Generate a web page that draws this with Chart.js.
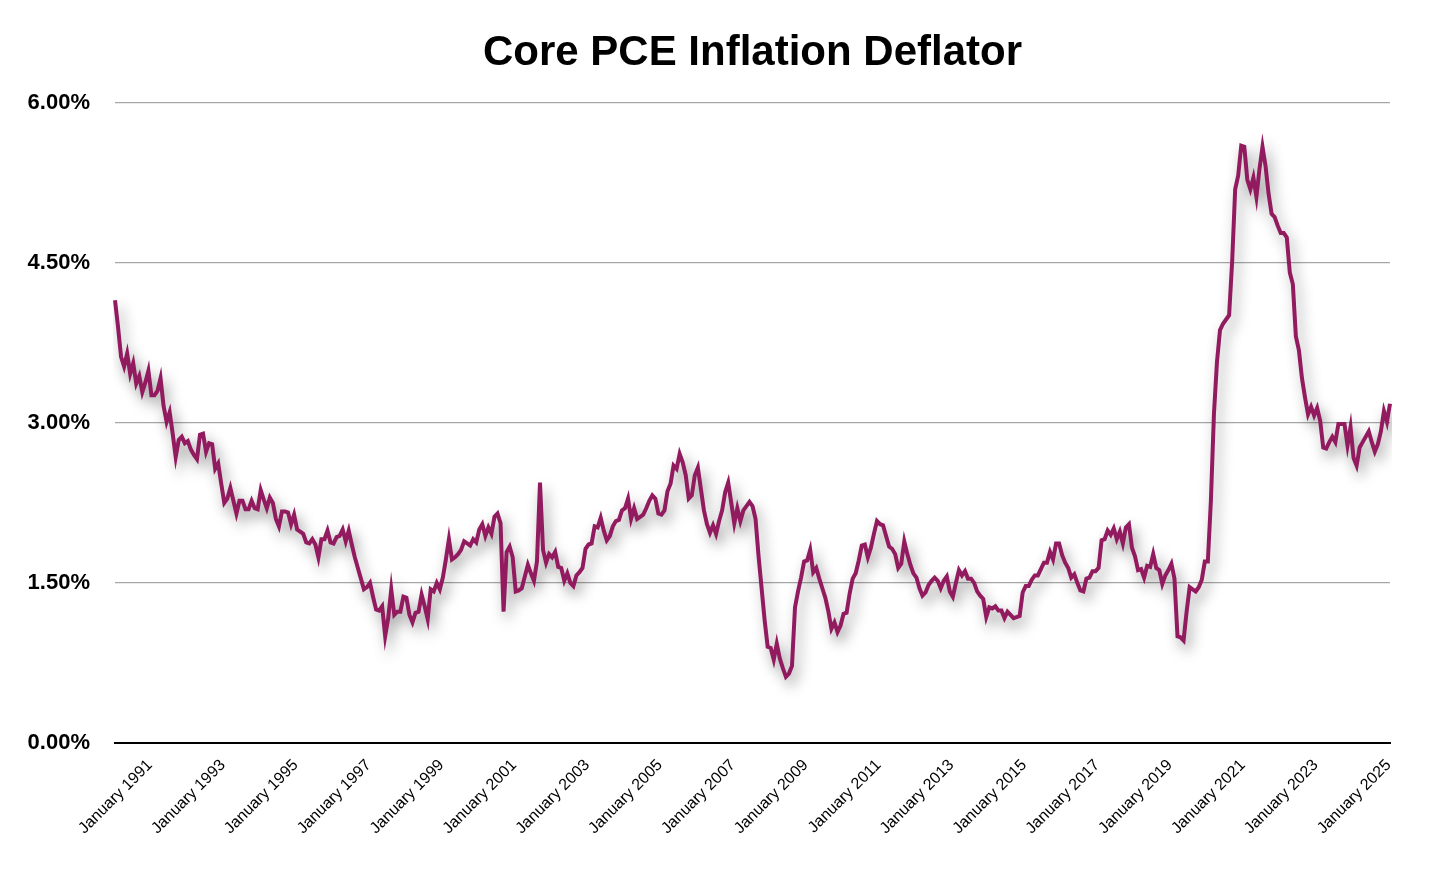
<!DOCTYPE html>
<html>
<head>
<meta charset="utf-8">
<script src="https://cdn.jsdelivr.net/npm/chart.js@4/dist/chart.umd.min.js"></script>
<style>
html,body{margin:0;padding:0;background:#ffffff;}
#wrap{width:1456px;height:887px;position:relative;}
</style>
</head>
<body>
<div id="wrap"><canvas id="c"></canvas></div>
<script>
const TITLE = 'Core PCE Inflation Deflator';
const MONTHS = ['January','February','March','April','May','June','July','August','September','October','November','December'];
const START_YEAR = 1991;
const LABEL_EVERY = 24;
const Y_MIN = 0, Y_MAX = 6, Y_STEP = 1.5;

// Core PCE YoY (%), monthly from January 1991
const coreValues = [
4.15,3.90,3.62,3.53,3.65,3.46,3.56,3.37,3.44,3.29,
3.38,3.49,3.26,3.26,3.30,3.42,3.16,3.01,3.10,2.90,
2.68,2.84,2.87,2.81,2.83,2.75,2.70,2.66,2.89,2.90,
2.73,2.81,2.80,2.57,2.62,2.43,2.25,2.29,2.39,2.27,
2.15,2.27,2.27,2.19,2.19,2.27,2.20,2.19,2.37,2.28,
2.20,2.30,2.25,2.10,2.03,2.17,2.17,2.16,2.05,2.14,
2.00,1.98,1.96,1.88,1.87,1.91,1.86,1.74,1.91,1.91,
1.99,1.88,1.87,1.93,1.94,2.00,1.89,1.99,1.86,1.74,
1.64,1.54,1.44,1.46,1.50,1.37,1.25,1.24,1.28,1.00,
1.17,1.44,1.20,1.23,1.23,1.37,1.36,1.20,1.13,1.22,
1.23,1.39,1.28,1.16,1.44,1.42,1.50,1.44,1.55,1.72,
1.91,1.72,1.74,1.77,1.81,1.89,1.87,1.85,1.91,1.88,
2.00,2.05,1.94,2.02,1.96,2.12,2.15,2.06,1.23,1.79,
1.84,1.74,1.42,1.43,1.45,1.56,1.67,1.59,1.52,1.70,
2.44,1.81,1.69,1.77,1.74,1.79,1.65,1.64,1.52,1.59,
1.50,1.47,1.57,1.60,1.64,1.82,1.86,1.87,2.03,2.02,
2.11,1.99,1.90,1.94,2.03,2.08,2.09,2.18,2.20,2.29,
2.10,2.20,2.10,2.12,2.14,2.20,2.27,2.32,2.29,2.15,
2.14,2.18,2.36,2.43,2.60,2.57,2.71,2.63,2.51,2.29,
2.32,2.51,2.58,2.38,2.18,2.05,1.97,2.04,1.96,2.08,
2.18,2.35,2.44,2.25,2.06,2.20,2.08,2.18,2.22,2.26,
2.22,2.10,1.75,1.45,1.15,0.90,0.89,0.78,0.93,0.79,
0.70,0.62,0.65,0.72,1.27,1.42,1.55,1.70,1.71,1.81,
1.60,1.64,1.54,1.45,1.36,1.23,1.07,1.13,1.04,1.10,
1.21,1.22,1.40,1.54,1.59,1.71,1.85,1.86,1.74,1.83,
1.96,2.08,2.05,2.04,1.94,1.84,1.82,1.77,1.64,1.68,
1.89,1.77,1.67,1.59,1.55,1.45,1.38,1.41,1.48,1.52,
1.55,1.52,1.45,1.52,1.56,1.42,1.37,1.50,1.62,1.57,
1.61,1.54,1.54,1.50,1.42,1.38,1.35,1.18,1.27,1.26,
1.28,1.24,1.24,1.17,1.23,1.20,1.17,1.18,1.19,1.41,
1.47,1.47,1.53,1.57,1.57,1.63,1.69,1.69,1.79,1.72,
1.87,1.87,1.76,1.69,1.64,1.55,1.58,1.50,1.43,1.42,
1.54,1.55,1.61,1.61,1.64,1.90,1.91,1.99,1.95,2.01,
1.91,1.98,1.87,2.02,2.05,1.83,1.75,1.62,1.63,1.55,
1.66,1.65,1.77,1.64,1.62,1.49,1.57,1.62,1.68,1.54,
1.00,0.99,0.96,1.23,1.46,1.44,1.42,1.46,1.53,1.70,
1.70,2.27,3.08,3.57,3.87,3.93,3.97,4.01,4.51,5.19,
5.32,5.60,5.59,5.28,5.19,5.30,5.12,5.38,5.59,5.41,
5.15,4.96,4.93,4.85,4.78,4.78,4.74,4.41,4.30,3.81,
3.68,3.42,3.24,3.08,3.15,3.07,3.14,3.02,2.77,2.76,
2.82,2.87,2.82,2.99,2.99,2.99,2.79,2.96,2.67,2.60,
2.77,2.82,2.87,2.92,2.82,2.73,2.80,2.92,3.11,3.01,
3.18
];

const categories = coreValues.map((_, i) => MONTHS[i % 12] + ' ' + (START_YEAR + Math.floor(i / 12)));

const FONT = '"Liberation Sans", Arial, Helvetica, sans-serif';
Chart.defaults.font.family = FONT;
Chart.defaults.color = '#000';

const lineShadow = {
  id: 'lineShadow',
  beforeDatasetDraw(chart) {
    const ctx = chart.ctx;
    ctx.save();
    ctx.shadowColor = 'rgba(0,0,0,0.42)';
    ctx.shadowBlur = 14;
    ctx.shadowOffsetX = 4;
    ctx.shadowOffsetY = 7;
  },
  afterDatasetDraw(chart) {
    chart.ctx.restore();
  }
};

// title centred over the plot area
const areaTitle = {
  id: 'areaTitle',
  afterDraw(chart) {
    const ctx = chart.ctx, a = chart.chartArea;
    ctx.save();
    ctx.font = 'bold 42px ' + FONT;
    ctx.fillStyle = '#000';
    ctx.textAlign = 'center';
    ctx.textBaseline = 'middle';
    ctx.fillText(TITLE, (a.left + a.right) / 2, 53);
    ctx.restore();
  }
};

new Chart(document.getElementById('c'), {
  type: 'line',
  data: {
    labels: categories,
    datasets: [{
      label: TITLE,
      data: coreValues,
      borderColor: '#921a5f',
      borderWidth: 4,
      pointRadius: 0,
      tension: 0,
      fill: false,
      borderJoinStyle: 'miter'
    }]
  },
  options: {
    responsive: true,
    maintainAspectRatio: false,
    animation: false,
    devicePixelRatio: 1,
    layout: { padding: { left: 27, right: 66, top: 103, bottom: 36 } },
    plugins: {
      legend: { display: false },
      tooltip: { enabled: false },
      title: { display: false }
    },
    scales: {
      x: {
        type: 'category',
        offset: false,
        grid: { display: false, drawTicks: false },
        border: { display: true, color: '#000', width: 2 },
        afterFit(scale) { scale.paddingLeft = 0; scale.paddingRight = 0; },
        ticks: {
          autoSkip: false,
          maxRotation: 45,
          minRotation: 45,
          padding: 13,
          labelOffset: 35,
          color: '#000',
          font: { size: 16 },
          callback: function(val, idx) {
            return idx % LABEL_EVERY === 0 ? categories[idx] : null;
          }
        }
      },
      y: {
        min: Y_MIN,
        max: Y_MAX,
        afterFit(scale) { scale.width = 88; },
        grid: { color: '#a6a6a6', lineWidth: 1.2, drawTicks: false },
        border: { display: false },
        ticks: {
          stepSize: Y_STEP,
          padding: 25,
          color: '#000',
          font: { size: 22, weight: 'bold' },
          callback: v => v.toFixed(2) + '%'
        }
      }
    }
  },
  plugins: [lineShadow, areaTitle]
});
</script>
</body>
</html>
